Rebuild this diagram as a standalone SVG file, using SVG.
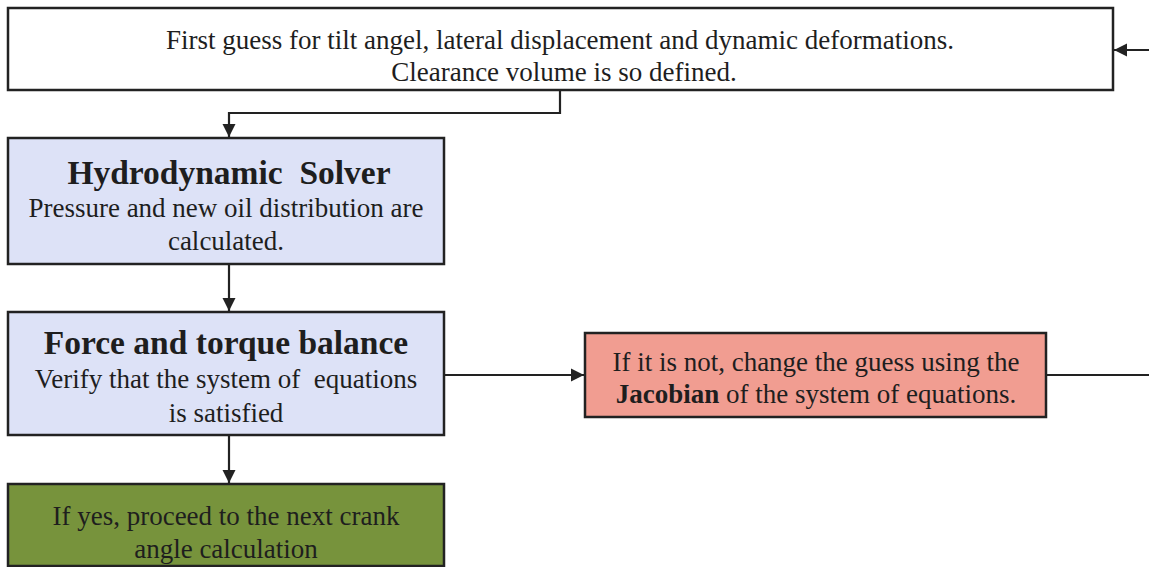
<svg xmlns="http://www.w3.org/2000/svg" width="1149" height="567" viewBox="0 0 1149 567">
<defs>
<style>
.box{stroke:#222;stroke-width:2.5}
.t{font-family:"Liberation Serif","Times New Roman",serif;font-size:27px;fill:#1e1e1e;text-anchor:middle;white-space:pre}
.h{font-family:"Liberation Serif","Times New Roman",serif;font-size:33.5px;font-weight:bold;fill:#1e1e1e;text-anchor:middle;white-space:pre}
.c{fill:none;stroke:#222;stroke-width:2.2}
</style>
<marker id="ah" viewBox="0 0 10 10" refX="10" refY="5" markerWidth="6" markerHeight="6" orient="auto" markerUnits="strokeWidth">
<path d="M0,0 L10,5 L0,10 z" fill="#222"/>
</marker>
</defs>
<rect width="1149" height="567" fill="#fff"/>
<g id="connectors">
<path class="c" d="M560,91 V113 H229 V137" marker-end="url(#ah)"/>
<path class="c" d="M229,264 V311" marker-end="url(#ah)"/>
<path class="c" d="M229,435 V483" marker-end="url(#ah)"/>
<path class="c" d="M444,375 H584" marker-end="url(#ah)"/>
<path class="c" d="M1046,375 H1149"/>
<path class="c" d="M1149,50 H1114" marker-end="url(#ah)"/>
</g>
<g id="guess">
<rect class="box" x="8" y="8" width="1105" height="82" fill="#fff"/>
<text class="t" x="560" y="49">First guess for tilt angel, lateral displacement and dynamic deformations.</text>
<text class="t" x="564" y="81">Clearance volume is so defined.</text>
</g>
<g id="hydro">
<rect class="box" x="8" y="138" width="436" height="126" fill="#dde2f7"/>
<text class="h" x="229" y="184">Hydrodynamic  Solver</text>
<text class="t" x="226" y="217">Pressure and new oil distribution are</text>
<text class="t" x="226" y="250">calculated.</text>
</g>
<g id="balance">
<rect class="box" x="8" y="312" width="436" height="123" fill="#dde2f7"/>
<text class="h" x="226" y="354">Force and torque balance</text>
<text class="t" x="226" y="388">Verify that the system of  equations</text>
<text class="t" x="226" y="422">is satisfied</text>
</g>
<g id="next">
<rect class="box" x="8" y="484" width="436" height="82" fill="#77933c"/>
<text class="t" x="226" y="525">If yes, proceed to the next crank</text>
<text class="t" x="226" y="558">angle calculation</text>
</g>
<g id="jacobian">
<rect class="box" x="585" y="333" width="461" height="84" fill="#f19d91"/>
<text class="t" x="816" y="371">If it is not, change the guess using the</text>
<text class="t" x="816" y="403"><tspan font-weight="bold">Jacobian</tspan> of the system of equations.</text>
</g>
</svg>
